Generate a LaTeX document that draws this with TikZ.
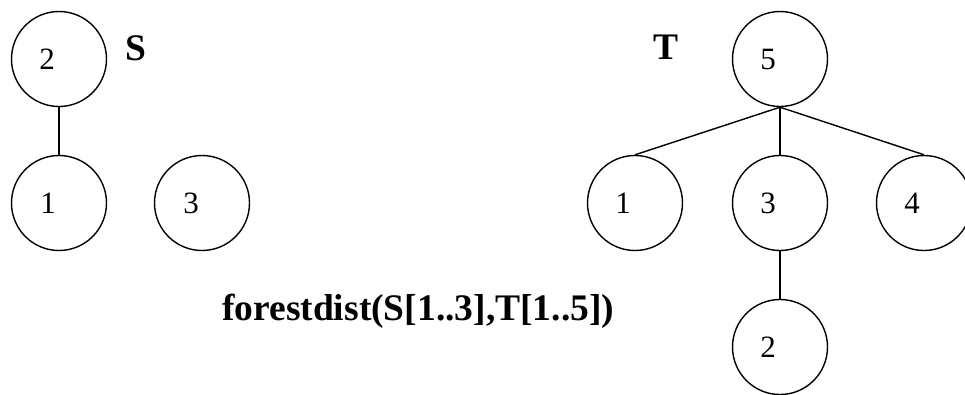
\documentclass[tikz,border=0pt]{standalone}
\usepackage{fontspec}
\setmainfont{Liberation Serif}
\begin{document}
\begin{tikzpicture}[x=1pt,y=-1pt,
  vc/.style={circle,draw,line width=1.4pt,minimum size=95pt,inner sep=0pt},
  digit/.style={font=\fontsize{31}{34}\selectfont,inner sep=0pt},
  lbl/.style={font=\fontsize{37.5}{41}\selectfont\bfseries,inner sep=0pt},
  edge/.style={line width=1.4pt}]
\clip (0,0) rectangle (965,394);
\useasboundingbox (0,0) rectangle (965,394);
% forest S
\node[vc] (s2) at (59,59) {};
\node[vc] (s1) at (59,203) {};
\node[vc] (s3) at (202,203) {};
\node[digit] at ([xshift=-12pt]s2.center) {2};
\node[digit] at ([xshift=-11pt]s1.center) {1};
\node[digit] at ([xshift=-11pt]s3.center) {3};
\draw[edge] (s2.south) -- (s1.north);
\node[lbl] (S) at (136,48) {S};
% forest T
\node[vc] (t5) at (780,59) {};
\node[vc] (t1) at (635,203) {};
\node[vc] (t3) at (780,203) {};
\node[vc] (t4) at (924,203) {};
\node[vc] (t2) at (780,347) {};
\node[digit] at ([xshift=-12pt]t5.center) {5};
\node[digit] at ([xshift=-12pt]t1.center) {1};
\node[digit] at ([xshift=-12pt]t3.center) {3};
\node[digit] at ([xshift=-12pt]t4.center) {4};
\node[digit] at ([xshift=-12pt]t2.center) {2};
\draw[edge] (t5.south) -- (t1.north);
\draw[edge] (t5.south) -- (t3.north);
\draw[edge] (t5.south) -- (t4.north);
\draw[edge] (t3.south) -- (t2.north);
\node[lbl] (T) at (666,47) {T};
\node[lbl,anchor=base west] (fd) at (222,320) {forestdist(S[1..3],T[1..5])};
\end{tikzpicture}
\end{document}
